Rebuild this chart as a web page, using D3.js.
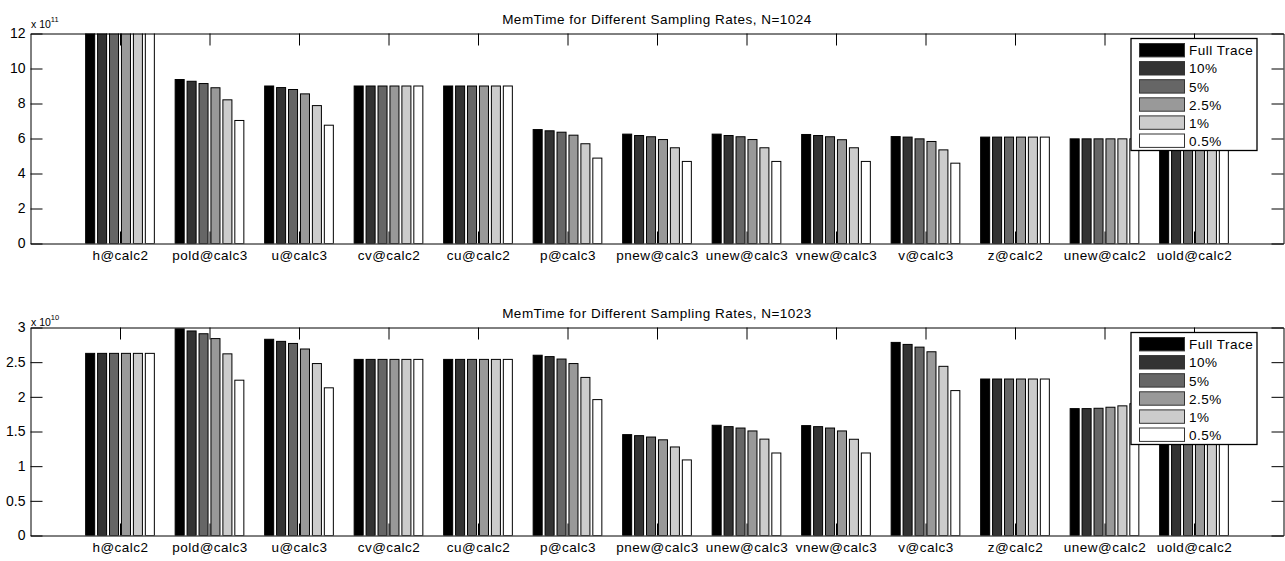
<!DOCTYPE html>
<html>
<head>
<meta charset="utf-8">
<script src="https://cdn.jsdelivr.net/npm/d3@7"></script>
<style>
	body { margin: 0; background: #fff; }
	svg text { font-family: "Liberation Sans", Arial, sans-serif; font-size: 13.5px; fill: #000; }
	.title, .xlabel text, .legend text { letter-spacing: 0.5px; }
	.ylabel text { font-size: 14px; }
	.exponent { font-size: 10.5px; }
</style>
</head>
<body>
<svg id="chart"></svg>
<script>
//Categories along x, and the sampling rates that make up each group.
const categories = ['h@calc2', 'pold@calc3', 'u@calc3', 'cv@calc2', 'cu@calc2', 'p@calc3',
	'pnew@calc3', 'unew@calc3', 'vnew@calc3', 'v@calc3', 'z@calc2', 'unew@calc2', 'uold@calc2'];
const rates = ['Full Trace', '10%', '5%', '2.5%', '1%', '0.5%'];
const rateColors = ['#000000', '#333333', '#666666', '#999999', '#cccccc', '#ffffff'];

//N=1024, in units of 10^11. One row per category, one value per rate.
//h@calc2 runs off the top of the axis; uold@calc2 is hidden behind the legend.
const memTime1024 = [
	[12.6, 12.6, 12.6, 12.6, 12.6, 12.6],
	[9.37, 9.27, 9.14, 8.90, 8.21, 7.03],
	[9.00, 8.91, 8.80, 8.55, 7.88, 6.76],
	[9.00, 9.00, 9.00, 9.00, 9.00, 9.00],
	[9.00, 9.00, 9.00, 9.00, 9.00, 9.00],
	[6.51, 6.44, 6.36, 6.19, 5.70, 4.88],
	[6.25, 6.17, 6.10, 5.94, 5.47, 4.69],
	[6.25, 6.17, 6.10, 5.94, 5.47, 4.69],
	[6.23, 6.17, 6.10, 5.93, 5.47, 4.69],
	[6.11, 6.08, 5.98, 5.83, 5.35, 4.59],
	[6.08, 6.08, 6.08, 6.08, 6.08, 6.08],
	[5.98, 5.98, 5.98, 5.98, 5.98, 5.98],
	[6.10, 6.10, 6.10, 6.10, 6.10, 6.10]
];
//N=1023, in units of 10^10.
const memTime1023 = [
	[2.627, 2.627, 2.627, 2.627, 2.627, 2.627],
	[2.98, 2.95, 2.91, 2.84, 2.62, 2.24],
	[2.83, 2.80, 2.77, 2.69, 2.48, 2.13],
	[2.54, 2.54, 2.54, 2.54, 2.54, 2.54],
	[2.54, 2.54, 2.54, 2.54, 2.54, 2.54],
	[2.60, 2.58, 2.545, 2.48, 2.28, 1.96],
	[1.455, 1.44, 1.42, 1.38, 1.277, 1.09],
	[1.59, 1.57, 1.55, 1.508, 1.39, 1.19],
	[1.585, 1.57, 1.55, 1.508, 1.388, 1.19],
	[2.785, 2.756, 2.717, 2.65, 2.44, 2.09],
	[2.257, 2.257, 2.257, 2.257, 2.257, 2.257],
	[1.83, 1.83, 1.835, 1.85, 1.87, 1.90],
	[1.95, 1.95, 1.95, 1.95, 1.95, 1.95]
];
const yTicks1024 = [0, 2, 4, 6, 8, 10, 12];
const yTicks1023 = [0, 0.5, 1, 1.5, 2, 2.5, 3];

const width = 1285;
const height = 561;
const left = 30.5;
const right = 1283.5;
const tickLen = 12;

const panels = [
	{id: 'p1024', title: 'MemTime for Different Sampling Rates, N=1024', values: memTime1024,
		ticks: yTicks1024, exponent: '11', top: 33.5, bottom: 243.5, expDy: -6},
	{id: 'p1023', title: 'MemTime for Different Sampling Rates, N=1023', values: memTime1023,
		ticks: yTicks1023, exponent: '10', top: 327.5, bottom: 535.5, expDy: -2}
];

const svg = d3.select('#chart')
	.attr('width', width)
	.attr('height', height);

//One grouped bar panel.
function renderPanel(panel) {
	const g = svg.append('g').attr('id', panel.id);
	const x = d3.scaleLinear()
		.domain([0, categories.length + 1])
		.range([left, right]);
	const y = d3.scaleLinear()
		.domain([0, d3.max(panel.ticks)])
		.range([panel.bottom, panel.top]);
	//Groups centred on 1..13, each 0.8 of a unit wide.
	const xGroup = d3.scaleBand()
		.domain(categories)
		.range([x(0.5), x(categories.length + 0.5)])
		.paddingInner(0.2)
		.paddingOuter(0.1);
	const xRate = d3.scaleBand()
		.domain(rates)
		.range([0, xGroup.bandwidth()])
		.paddingInner(0.16)
		.paddingOuter(0.08);

	g.append('clipPath')
		.attr('id', `clip-${panel.id}`)
		.append('rect')
		.attr('x', left)
		.attr('y', panel.top)
		.attr('width', right - left)
		.attr('height', panel.bottom - panel.top);

	//Bars.
	g.append('g')
		.attr('clip-path', `url(#clip-${panel.id})`)
		.selectAll('g')
		.data(panel.values)
		.join('g')
		.attr('transform', (d, i) => `translate(${xGroup(categories[i])},0)`)
		.selectAll('rect')
		.data(d => d)
		.join('rect')
		.attr('x', (d, j) => xRate(rates[j]) + 0.5)
		.attr('y', d => y(d))
		.attr('width', xRate.bandwidth() - 1)
		.attr('height', d => y(0) - y(d))
		.attr('fill', (d, j) => rateColors[j])
		.attr('stroke', '#000')
		.attr('stroke-width', 1);

	//Axes: ticks point inward on all four sides, labels only left and bottom.
	const xTickVals = d3.range(1, categories.length + 1);
	g.append('g')
		.attr('class', 'xlabel')
		.attr('transform', `translate(0,${panel.bottom})`)
		.call(d3.axisBottom(x).tickValues(xTickVals).tickFormat(i => categories[i - 1])
			.tickSizeInner(-tickLen).tickSizeOuter(0).tickPadding(7));
	g.append('g')
		.attr('transform', `translate(0,${panel.top})`)
		.call(d3.axisTop(x).tickValues(xTickVals).tickFormat('')
			.tickSizeInner(-tickLen).tickSizeOuter(0));
	g.append('g')
		.attr('class', 'ylabel')
		.attr('transform', `translate(${left},0)`)
		.call(d3.axisLeft(y).tickValues(panel.ticks).tickFormat(d => String(d))
			.tickSizeInner(-tickLen).tickSizeOuter(0).tickPadding(5));
	g.append('g')
		.attr('transform', `translate(${right},0)`)
		.call(d3.axisRight(y).tickValues(panel.ticks).tickFormat('')
			.tickSizeInner(-tickLen).tickSizeOuter(0));
	g.selectAll('.domain, .tick line')
		.attr('stroke', '#000')
		.attr('stroke-width', 1);

	//Exponent above the y axis.
	const expText = g.append('text')
		.attr('class', 'exponent')
		.attr('x', left + 0.5)
		.attr('y', panel.top + panel.expDy);
	expText.append('tspan').text('x 10');
	expText.append('tspan')
		.text(panel.exponent)
		.attr('dy', -5.5)
		.style('font-size', '7.5px');

	//Title.
	g.append('text')
		.attr('class', 'title')
		.text(panel.title)
		.attr('x', (left + right) / 2)
		.attr('y', panel.top - 9.5)
		.attr('text-anchor', 'middle');

	//Legend, drawn over bars and ticks.
	const legend = g.append('g')
		.attr('class', 'legend')
		.attr('transform', `translate(${right - 152.5},${panel.top + 5})`);
	legend.append('rect')
		.attr('width', 126)
		.attr('height', 112)
		.attr('fill', '#fff')
		.attr('stroke', '#000')
		.attr('stroke-width', 1.3);
	const rows = legend.selectAll('g.row')
		.data(rates)
		.join('g')
		.attr('class', 'row')
		.attr('transform', (d, j) => `translate(0,${5 + j * 18.1})`);
	rows.append('rect')
		.attr('x', 8.5)
		.attr('y', 0)
		.attr('width', 45)
		.attr('height', 13.4)
		.attr('fill', (d, j) => rateColors[j])
		.attr('stroke', '#333')
		.attr('stroke-width', 1);
	rows.append('text')
		.text(d => d)
		.attr('x', 58)
		.attr('y', 11.8);
}

panels.forEach(renderPanel);
</script>
</body>
</html>
